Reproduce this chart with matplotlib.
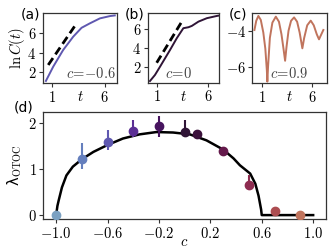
import numpy as np
import matplotlib
matplotlib.use("Agg")
import matplotlib.pyplot as plt
from matplotlib.colors import Normalize

plt.rcParams['mathtext.fontset'] = 'cm'
plt.rcParams['font.size'] = 10.5

# panel (a): c = -0.6
t_a = [0.46, 1.15, 2.09, 3.04, 3.83, 4.61, 5.56, 6.5, 6.97]
lnC_a = [1.03, 2.52, 4.26, 5.65, 6.58, 7.04, 7.56, 7.80, 7.87]
dash_a_t = [0.68, 3.36]
dash_a_y = [2.70, 7.04]

# panel (b): c = 0
t_b = [0.35, 0.83, 1.32, 2.29, 2.94, 3.58, 4.07, 4.40, 5.04, 5.85, 6.83, 7.0]
lnC_b = [0.56, 1.19, 2.06, 3.82, 5.05, 6.11, 6.21, 6.35, 6.80, 7.16, 7.40, 7.43]
dash_b_t = [1.0, 3.43]
dash_b_y = [2.48, 6.80]

# panel (c): c = 0.9
t_c = [0.27, 0.45, 0.66, 0.9, 1.15, 1.35, 1.5, 1.55, 1.62, 1.8, 2.05, 2.39,
       2.7, 2.95, 3.15, 3.31, 3.45, 3.65, 3.9, 4.2, 4.5, 4.75, 5.02, 5.2,
       5.5, 5.85, 6.15, 6.45, 6.67, 6.9, 7.1]
lnC_c = [-3.96, -3.45, -3.18, -3.4, -4.1, -5.0, -6.2, -6.83, -6.0, -4.4, -3.55, -3.22,
         -3.5, -4.2, -5.0, -5.67, -4.9, -4.0, -3.45, -3.26, -3.5, -4.1, -4.98, -4.4,
         -3.7, -3.44, -3.7, -4.2, -4.48, -4.2, -3.96]

# panel (d): Lyapunov exponent vs c
c_pts = [-1.0, -0.8, -0.6, -0.4, -0.2, 0.0, 0.1, 0.3, 0.5, 0.7, 0.9]
lam_pts = [0.0, 1.22, 1.59, 1.83, 1.93, 1.80, 1.75, 1.40, 0.65, 0.09, 0.0]
err_lo = [0.0, 0.23, 0.18, 0.13, 0.24, 0.05, 0.0, 0.0, 0.0, 0.0, 0.0]
err_hi = [0.0, 0.35, 0.25, 0.23, 0.21, 0.26, 0.0, 0.0, 0.22, 0.0, 0.0]

c_theory = [-1.0, -0.99, -0.98, -0.955, -0.92, -0.87, -0.8, -0.71, -0.6, -0.48, -0.35,
            -0.22, -0.09, 0.04, 0.17, 0.3, 0.38, 0.43, 0.51, 0.55, 0.575, 0.595, 0.6, 1.0]
lam_theory = [0.0, 0.2, 0.32, 0.6, 0.86, 1.05, 1.21, 1.37, 1.52, 1.66, 1.75,
              1.80, 1.79, 1.75, 1.62, 1.42, 1.23, 1.08, 0.9, 0.68, 0.42, 0.12, 0.0, 0.0]

cmap = plt.cm.twilight
norm = Normalize(-1.5, 1.5)

fig = plt.figure(figsize=(3.33, 2.5), dpi=100)
ax_a = fig.add_axes([0.128, 0.667, 0.224, 0.282])
ax_b = fig.add_axes([0.4435, 0.669, 0.2145, 0.278])
ax_c = fig.add_axes([0.758, 0.667, 0.223, 0.280])
ax_d = fig.add_axes([0.130, 0.123, 0.849, 0.430])

spine_col = '#333333'
for ax in [ax_a, ax_b, ax_c, ax_d]:
    for s in ax.spines.values():
        s.set_color(spine_col)
        s.set_linewidth(0.9)
    ax.tick_params(length=3, width=0.8, color=spine_col, pad=1.5, labelsize=10.5)

def mt(vals, fmt):
    return ['$' + (fmt % v) + '$' for v in vals]

# (a)
ax_a.plot(t_a, lnC_a, color=cmap(norm(-0.6)), lw=1.4)
ax_a.plot(dash_a_t, dash_a_y, 'k--', lw=2, dashes=(3, 1.6))
ax_a.set_xlim(0.15, 7.2)
ax_a.set_ylim(0.79, 8.15)
ax_a.set_yticks([2, 4, 6])
ax_a.set_yticklabels(mt([2, 4, 6], '%d'))
ax_a.set_xticks([1, 6])
ax_a.set_xticklabels(mt([1, 6], '%d'))
ax_a.set_ylabel(r'$\ln C(t)$', labelpad=0)
ax_a.set_xlabel('$t$', labelpad=-11)
ax_a.text(0.98, 0.03, r'$c\!=\!{-}0.6$', transform=ax_a.transAxes, ha='right', va='bottom', color='#444444')

# (b)
ax_b.plot(t_b, lnC_b, color=cmap(norm(0.0)), lw=1.4)
ax_b.plot(dash_b_t, dash_b_y, 'k--', lw=2, dashes=(3, 1.6))
ax_b.set_xlim(0.13, 7.04)
ax_b.set_ylim(0.38, 7.68)
ax_b.set_yticks([2, 4, 6])
ax_b.set_yticklabels(mt([2, 4, 6], '%d'))
ax_b.set_xticks([1, 6])
ax_b.set_xticklabels(mt([1, 6], '%d'))
ax_b.set_xlabel('$t$', labelpad=-11)
ax_b.text(0.24, 0.03, r'$c\!=\!0$', transform=ax_b.transAxes, ha='left', va='bottom', color='#444444')

# (c)
ax_c.plot(t_c, lnC_c, color=cmap(norm(0.9)), lw=1.4)
ax_c.set_xlim(0.07, 7.43)
ax_c.set_ylim(-6.92, -3.03)
ax_c.set_yticks([-4, -6])
ax_c.set_yticklabels(mt([-4, -6], '%d'))
ax_c.set_xticks([1, 6])
ax_c.set_xticklabels(mt([1, 6], '%d'))
ax_c.set_xlabel('$t$', labelpad=-11)
ax_c.text(0.24, 0.03, r'$c\!=\!0.9$', transform=ax_c.transAxes, ha='left', va='bottom', color='#444444')

# (d)
ax_d.plot(c_theory, lam_theory, color='k', lw=1.8, zorder=1)
for c, lam, lo, hi in zip(c_pts, lam_pts, err_lo, err_hi):
    col = cmap(norm(c))
    ax_d.errorbar([c], [lam], yerr=[[lo], [hi]], fmt='o', color=col, ms=6, elinewidth=1.5,
                  capsize=0, zorder=3)
ax_d.set_xlim(-1.1, 1.1)
ax_d.set_ylim(-0.09, 2.24)
ax_d.set_xticks([-1.0, -0.6, -0.2, 0.2, 0.6, 1.0])
ax_d.set_xticklabels(mt([-1.0, -0.6, -0.2, 0.2, 0.6, 1.0], '%.1f'))
ax_d.set_yticks([0, 1, 2])
ax_d.set_yticklabels(mt([0, 1, 2], '%d'))
ax_d.set_xlabel('$c$', labelpad=-5)
ax_d.set_ylabel(r'λ$_{\rm OTOC}$', labelpad=3)

fig.text(0.062, 0.94, '(a)', fontsize=10, va='center', ha='left')
fig.text(0.376, 0.94, '(b)', fontsize=10, va='center', ha='left')
fig.text(0.688, 0.94, '(c)', fontsize=10, va='center', ha='left')
fig.text(0.042, 0.57, '(d)', fontsize=10, va='center', ha='left')

fig.savefig('out.png', dpi=100)
